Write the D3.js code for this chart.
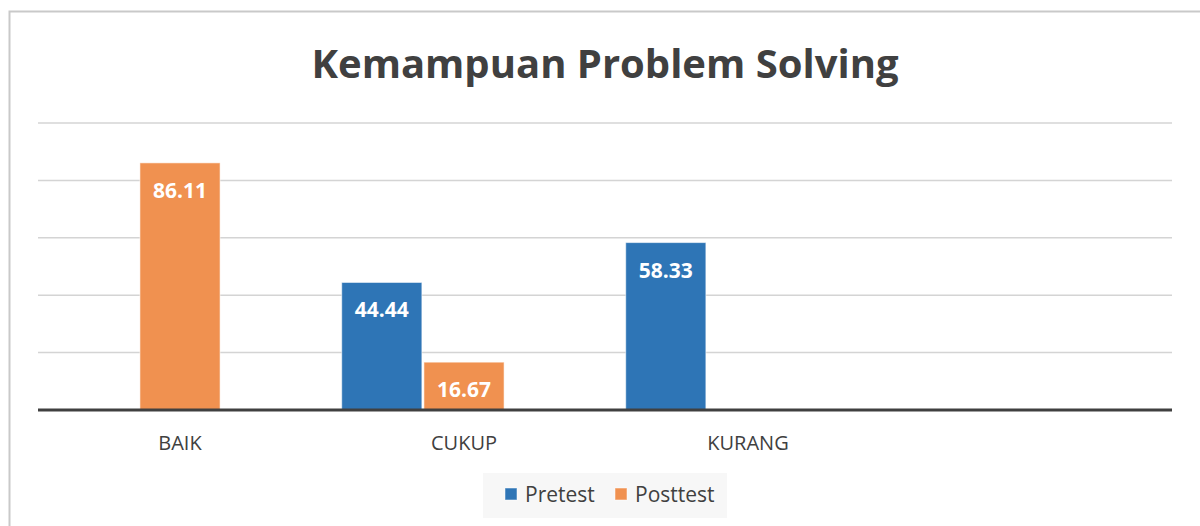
<!doctype html>
<html lang="id">
<head>
  <meta charset="utf-8">
  <title>Kemampuan Problem Solving</title>
  <script src="https://d3js.org/d3.v7.min.js"></script>
  <style>
    body { margin: 0; background: #fff; }
    text { font-family: "Open Sans", sans-serif; }
  </style>
</head>
<body>
<div id="chart"></div>
<script>
  // data
  const categories = ["BAIK", "CUKUP", "KURANG", ""];
  const seriesNames = ["Pretest", "Posttest", ""];   // third slot is an empty series
  const pretest = [null, 44.44, 58.33, null];
  const posttest = [86.11, 16.67, null, null];
  const emptySeries = [null, null, null, null];
  const seriesColors = ["#2e75b6", "#f09150", "none"];
  const yTicks = [0, 20, 40, 60, 80, 100];

  const W = 1200, H = 526;
  const plot = { left: 38, right: 1174, top: 123, bottom: 410 };

  const svg = d3.select("#chart").append("svg")
    .attr("width", W)
    .attr("height", H);

  // chart frame
  svg.append("rect")
    .attr("x", 9.5).attr("y", 11.5)
    .attr("width", 1220).attr("height", 540)
    .attr("fill", "#fff")
    .attr("stroke", "#c9c9c9")
    .attr("stroke-width", 2);

  svg.append("text")
    .text("Kemampuan Problem Solving")
    .attr("x", 605)
    .attr("y", 78)
    .attr("text-anchor", "middle")
    .attr("font-size", 40)
    .attr("font-weight", "bold")
    .attr("fill", "#404040");

  const y = d3.scaleLinear().domain([0, 100]).range([plot.bottom, plot.top]);

  const x0 = d3.scaleBand()
    .domain(categories)
    .range([plot.left, plot.right]);

  const x1 = d3.scaleBand()
    .domain(d3.range(seriesNames.length))
    .range([0, x0.bandwidth()])
    .paddingInner(0.025)
    .paddingOuter(0.24);

  // gridlines
  svg.append("g").selectAll("line")
    .data(yTicks.filter(d => d > 0))
    .enter().append("line")
    .attr("x1", plot.left)
    .attr("x2", plot.right - 2)
    .attr("y1", d => y(d))
    .attr("y2", d => y(d))
    .attr("stroke", "#d4d4d4")
    .attr("stroke-width", 1.5);

  const allSeries = [pretest, posttest, emptySeries];
  const bars = [];
  allSeries.forEach(function (vals, s) {
    vals.forEach(function (v, i) {
      if (v != null) bars.push({ s: s, i: i, v: v });
    });
  });

  const g = svg.append("g");

  g.selectAll("rect")
    .data(bars)
    .enter().append("rect")
    .attr("x", d => x0(categories[d.i]) + x1(d.s))
    .attr("y", d => y(d.v))
    .attr("width", x1.bandwidth())
    .attr("height", d => y(0) - y(d.v))
    .attr("fill", d => seriesColors[d.s])
    .attr("stroke", "rgba(255,255,255,0.55)")
    .attr("stroke-width", 1);

  g.selectAll("text")
    .data(bars)
    .enter().append("text")
    .text(d => d.v.toFixed(2))
    .attr("x", d => x0(categories[d.i]) + x1(d.s) + x1.bandwidth() / 2)
    .attr("y", d => y(d.v) + 35)
    .attr("text-anchor", "middle")
    .attr("font-size", 21)
    .attr("font-weight", "bold")
    .attr("fill", "#fff");

  // baseline
  svg.append("line")
    .attr("x1", plot.left)
    .attr("x2", plot.right - 2)
    .attr("y1", y(0))
    .attr("y2", y(0))
    .attr("stroke", "#404040")
    .attr("stroke-width", 3);

  // category axis
  const xAxis = d3.axisBottom(x0).tickSize(0).tickPadding(0);
  const ax = svg.append("g")
    .attr("transform", "translate(0," + 450 + ")")
    .call(xAxis);
  ax.select(".domain").remove();
  ax.selectAll("text")
    .attr("dy", 0)
    .attr("font-size", 20)
    .attr("font-family", "'Open Sans', sans-serif")
    .attr("fill", "#404040");

  // legend
  const legend = svg.append("g");
  legend.append("rect")
    .attr("x", 483).attr("y", 473)
    .attr("width", 244).attr("height", 45)
    .attr("fill", "#f7f7f7");

  const legendX = [505, 615];
  seriesNames.slice(0, 2).forEach(function (name, s) {
    legend.append("rect")
      .attr("x", legendX[s]).attr("y", 488)
      .attr("width", 12).attr("height", 12)
      .attr("fill", seriesColors[s])
      .attr("stroke", "rgba(255,255,255,0.5)");
    legend.append("text")
      .text(name)
      .attr("x", legendX[s] + 20)
      .attr("y", 502)
      .attr("font-size", 21)
      .attr("fill", "#404040");
  });
</script>
</body>
</html>
